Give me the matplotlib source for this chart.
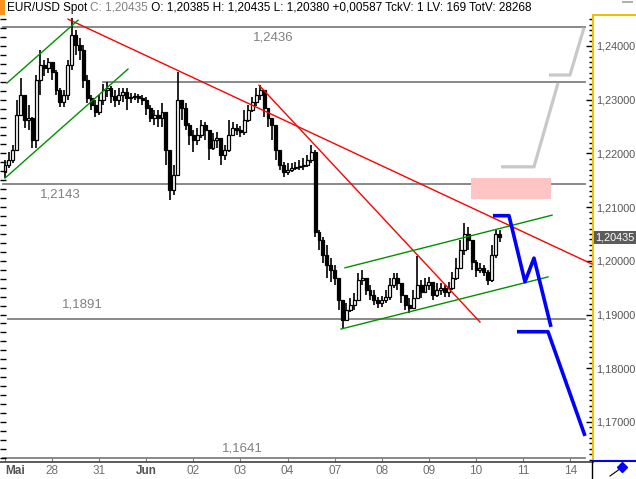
import matplotlib
matplotlib.use("Agg")
import matplotlib.pyplot as plt
import matplotlib.transforms as mtransforms
from matplotlib.lines import Line2D
from matplotlib.patches import Rectangle
from matplotlib.ticker import MultipleLocator, FuncFormatter
import numpy as np

plt.rcParams['font.family'] = ['Liberation Sans', 'DejaVu Sans']

#### data: EUR/USD 2-hour bars, 27 May - 10 June ####
BARS_PER_DAY = 12
first_open = 1.2165
closes = [1.2179, 1.2188, 1.2206, 1.2272, 1.2309, 1.2262, 1.2266, 1.2225, 1.2337, 1.2365,
          1.2359, 1.2370, 1.2352, 1.2318, 1.2296, 1.2309, 1.2365, 1.2421, 1.2402, 1.2393,
          1.2337, 1.2303, 1.2290, 1.2277, 1.2300, 1.2318, 1.2322, 1.2307, 1.2300, 1.2309,
          1.2315, 1.2303, 1.2305, 1.2307, 1.2303, 1.2300, 1.2285, 1.2266, 1.2272, 1.2266,
          1.2277, 1.2206, 1.2132, 1.2160, 1.2300, 1.2285, 1.2253, 1.2235, 1.2225, 1.2235,
          1.2253, 1.2244, 1.2210, 1.2225, 1.2229, 1.2197, 1.2206, 1.2235, 1.2248, 1.2244,
          1.2240, 1.2262, 1.2281, 1.2296, 1.2309, 1.2318, 1.2285, 1.2266, 1.2253, 1.2206,
          1.2179, 1.2166, 1.2169, 1.2173, 1.2175, 1.2177, 1.2179, 1.2188, 1.2203, 1.2053,
          1.2039, 1.2011, 1.1992, 1.1983, 1.1968, 1.1927, 1.1890, 1.1908, 1.1918, 1.1927,
          1.1964, 1.1968, 1.1946, 1.1937, 1.1927, 1.1921, 1.1927, 1.1933, 1.1955, 1.1968,
          1.1959, 1.1937, 1.1918, 1.1912, 1.1931, 1.1955, 1.1942, 1.1955, 1.1961, 1.1937,
          1.1946, 1.1950, 1.1942, 1.1950, 1.1968, 1.1987, 1.2020, 1.2049, 1.2039, 1.1998,
          1.1983, 1.1987, 1.1979, 1.1964, 1.2011, 1.2049, 1.20435]
highs = [1.2188, 1.2203, 1.2216, 1.2300, 1.2340, 1.2309, 1.2290, 1.2268, 1.2346, 1.2393,
         1.2374, 1.2378, 1.2368, 1.2355, 1.2322, 1.2318, 1.2374, 1.2452, 1.2430, 1.2415,
         1.2402, 1.2346, 1.2309, 1.2300, 1.2309, 1.2329, 1.2333, 1.2326, 1.2318, 1.2322,
         1.2322, 1.2322, 1.2313, 1.2313, 1.2311, 1.2309, 1.2305, 1.2290, 1.2281, 1.2281,
         1.2294, 1.2277, 1.2206, 1.2179, 1.2352, 1.2300, 1.2294, 1.2257, 1.2244, 1.2248,
         1.2262, 1.2259, 1.2238, 1.2238, 1.2240, 1.2225, 1.2216, 1.2262, 1.2259, 1.2255,
         1.2251, 1.2281, 1.2290, 1.2305, 1.2322, 1.2327, 1.2313, 1.2285, 1.2266, 1.2253,
         1.2206, 1.2184, 1.2182, 1.2182, 1.2184, 1.2188, 1.2192, 1.2197, 1.2216, 1.2206,
         1.2057, 1.2044, 1.2030, 1.2005, 1.1992, 1.1968, 1.1927, 1.1921, 1.1931, 1.1940,
         1.1977, 1.1983, 1.1968, 1.1955, 1.1946, 1.1933, 1.1935, 1.1946, 1.1968, 1.1977,
         1.1977, 1.1959, 1.1937, 1.1931, 1.1946, 1.2009, 1.1964, 1.1968, 1.1970, 1.1961,
         1.1959, 1.1959, 1.1955, 1.1961, 1.1979, 1.2005, 1.2039, 1.2071, 1.2063, 1.2039,
         1.2001, 1.1996, 1.1992, 1.1983, 1.2030, 1.2059, 1.2057]
lows = [1.2154, 1.2173, 1.2182, 1.2206, 1.2275, 1.2248, 1.2244, 1.2210, 1.2210, 1.2309,
        1.2344, 1.2350, 1.2337, 1.2309, 1.2287, 1.2287, 1.2300, 1.2355, 1.2383, 1.2374,
        1.2322, 1.2294, 1.2281, 1.2268, 1.2272, 1.2290, 1.2305, 1.2294, 1.2287, 1.2290,
        1.2296, 1.2281, 1.2294, 1.2300, 1.2294, 1.2290, 1.2272, 1.2259, 1.2253, 1.2249,
        1.2249, 1.2179, 1.2113, 1.2122, 1.2160, 1.2262, 1.2244, 1.2216, 1.2203, 1.2216,
        1.2229, 1.2225, 1.2188, 1.2206, 1.2210, 1.2179, 1.2188, 1.2203, 1.2235, 1.2235,
        1.2231, 1.2235, 1.2259, 1.2277, 1.2288, 1.2300, 1.2268, 1.2249, 1.2225, 1.2188,
        1.2169, 1.2156, 1.2160, 1.2166, 1.2169, 1.2169, 1.2169, 1.2175, 1.2182, 1.2044,
        1.2020, 1.1996, 1.1968, 1.1961, 1.1955, 1.1908, 1.1875, 1.1890, 1.1905, 1.1908,
        1.1927, 1.1955, 1.1937, 1.1927, 1.1918, 1.1912, 1.1914, 1.1921, 1.1927, 1.1950,
        1.1946, 1.1921, 1.1908, 1.1903, 1.1918, 1.1937, 1.1931, 1.1940, 1.1946, 1.1927,
        1.1933, 1.1937, 1.1933, 1.1933, 1.1946, 1.1964, 1.1987, 1.2011, 1.2020, 1.1983,
        1.1970, 1.1977, 1.1972, 1.1955, 1.1961, 1.2005, 1.2035]

day_labels = ["Mai", "28", "31", "Jun", "02", "03", "04", "07", "08", "09", "10", "11", "14"]
month_labels = ["Mai", "Jun"]

# horizontal support / resistance levels
levels = [1.2436, 1.2333, 1.2143, 1.1891, 1.1633]
level_starts = [-0.04, 2.08, -0.04, 0.06, -0.04]
level_end = 12.31
level_texts = ["1,2436", "", "1,2143", "1,1891", "1,1641"]
level_text_x = [5.69, 0, 1.17, 1.64, 5.05]
level_text_y = [1.2415, 0, 1.2123, 1.1918, 1.1650]

# trend lines (x in trading days, y in price)
red_lines = [([1.338, 12.463], [1.2450, 1.1994]),
             ([5.393, 10.085], [1.2327, 1.1886])]
green_lines = [([0.042, 1.550], [1.2331, 1.2448]),
               ([0.0, 2.611], [1.2154, 1.2357]),
               ([7.219, 11.614], [1.1987, 1.2085]),
               ([7.134, 11.529], [1.1873, 1.1970])]
blue_paths = [([10.361, 10.701, 11.040, 11.231, 11.592], [1.2084, 1.2084, 1.1961, 1.2005, 1.1877]),
              ([10.870, 11.529, 12.314], [1.1868, 1.1868, 1.1674])]
gray_paths = [([10.531, 11.231, 11.741], [1.2175, 1.2175, 1.2331]),
              ([11.550, 11.996, 12.293], [1.2346, 1.2346, 1.2434])]
zone_x = [9.894, 11.592]
zone_y = [1.2115, 1.2154]

last_price = 1.20435
header = ["EUR/USD Spot ", "C: 1,20435", " O: 1,20385 H: 1,20435 L: 1,20380 +0,00587 TckV: 1 LV: 169 TotV: 28268"]
header_colors = ["black", "#808080", "black"]

W, H = 636, 479
fig = plt.figure(figsize=(W / 100, H / 100), dpi=100)
ax = fig.add_axes([0, 17 / H, 593 / W, 447 / H])

# left-hand tick ruler (twinx first: it moves the host's ticks to the left)
axl = ax.twinx()

ax.set_xlim(-0.106, 12.484)
ax.set_ylim(1.16254, 1.24577)
axl.set_ylim(ax.get_ylim())

# levels
for lv, x0, txt, tx, ty in zip(levels, level_starts, level_texts, level_text_x, level_text_y):
    ax.plot([x0, level_end], [lv, lv], color="#808080", lw=1.3, zorder=1)
    if txt:
        ax.text(tx, ty, txt, color="#808080", fontsize=9.5, ha="center", va="center", zorder=1)

ax.add_patch(Rectangle((zone_x[0], zone_y[0]), zone_x[1] - zone_x[0], zone_y[1] - zone_y[0],
                       facecolor="#ffc4c4", edgecolor="none", zorder=1))

# candles
n = len(closes)
xs = np.arange(n) / BARS_PER_DAY
opens = np.array([first_open] + closes[:-1])
closes_a = np.array(closes)
ax.vlines(xs, lows, highs, color="black", lw=1.2, zorder=2)
up = closes_a >= opens
bottoms = np.minimum(opens, closes_a)
heights = np.maximum(np.abs(closes_a - opens), 0.00003)
ax.bar(xs, heights, bottom=bottoms, width=0.062,
       color=np.where(up, "white", "black"), edgecolor="black", lw=0.9, zorder=3)

for lx, ly in red_lines:
    ax.plot(lx, ly, color="#ff0000", lw=1.0, zorder=4)
for lx, ly in green_lines:
    ax.plot(lx, ly, color="#009000", lw=1.0, zorder=4)
for px, py in gray_paths:
    ax.plot(px, py, color="#c8c8c8", lw=2.3, zorder=4, solid_capstyle="butt")
for px, py in blue_paths:
    ax.plot(px, py, color="#0000ff", lw=2.6, zorder=5, solid_capstyle="butt")

# axes styling
for side in ["top", "left"]:
    ax.spines[side].set_visible(False)
ax.spines["right"].set_color("#f0c000")
ax.spines["right"].set_linewidth(1.5)
ax.spines["bottom"].set_color("#404040")
ax.spines["bottom"].set_linewidth(1.2)
for s in axl.spines.values():
    s.set_visible(False)

ax.yaxis.tick_right()
ax.yaxis.set_major_locator(MultipleLocator(0.01))
ax.yaxis.set_minor_locator(MultipleLocator(0.001))
ax.yaxis.set_major_formatter(FuncFormatter(lambda v, p: f"{v:.5f}".replace(".", ",")))
ax.tick_params(axis="y", which="major", direction="in", length=5, width=1, color="black",
               labelcolor="#555555", labelsize=7.8, pad=2.5, left=False, labelleft=False,
               right=True, labelright=True)
ax.tick_params(axis="y", which="minor", direction="in", length=3, width=1, color="black",
               left=False, right=True)

axl.yaxis.tick_left()
axl.yaxis.set_major_locator(MultipleLocator(0.01 / 6))
axl.yaxis.set_minor_locator(MultipleLocator(1))
axl.tick_params(axis="y", direction="in", length=4, width=1, color="black",
                labelleft=False, labelright=False, right=False)

ax.set_xticks(range(len(day_labels)))
ax.set_xticklabels(day_labels)
ax.tick_params(axis="x", direction="in", length=3, color="#808080", labelsize=8.5,
               labelcolor="#707070", pad=2)
for lab in ax.get_xticklabels():
    if lab.get_text() in month_labels:
        lab.set_fontweight("bold")
        lab.set_color("#555555")
    if lab.get_text() == "Mai":
        lab.set_horizontalalignment("left")
        lab.set_x(-0.106)

# last price marker
trans = mtransforms.blended_transform_factory(ax.transAxes, ax.transData)
ax.text(1.004, last_price, "1,20435", transform=trans, ha="left", va="center", color="white",
        fontsize=7.8, clip_on=False, zorder=10,
        bbox=dict(facecolor="#5c5c5c", edgecolor="none", boxstyle="square,pad=0.15"))

# frame decorations
fig.add_artist(Line2D([593 / W, 1], [1 - 15 / H] * 2, color="#f0c000", lw=1.5))
fig.add_artist(Line2D([593 / W, 1], [1 - 461 / H] * 2, color="#0000ff", lw=1.5))
fig.add_artist(Line2D([592 / W, 592 / W], [0, 1 - 462 / H], color="black", lw=1))
fig.add_artist(Line2D([610 / W, 624 / W], [1 - 476 / H, 1 - 466 / H], color="black", lw=0.8))
fig.add_artist(Line2D([622 / W], [1 - 467 / H], marker="D", color="#0000ff", markersize=5))
fig.add_artist(Rectangle((0, 1 - 15 / H), 5 / W, 15 / H, facecolor="#f7941d", edgecolor="none"))
fig.add_artist(Rectangle((622 / W, 1 - 3 / H), 11 / W, 2 / H, facecolor="#b0b0b0", edgecolor="none"))

# header line
prev = fig.text(7 / W, 1 - 14 / H, header[0], color=header_colors[0], fontsize=8.5, va="bottom")
for txt, col in zip(header[1:], header_colors[1:]):
    prev = ax.annotate(txt, xy=(1, 0), xycoords=prev, va="bottom", ha="left",
                       color=col, fontsize=8.5, annotation_clip=False)

fig.savefig("out.png", dpi=100)
